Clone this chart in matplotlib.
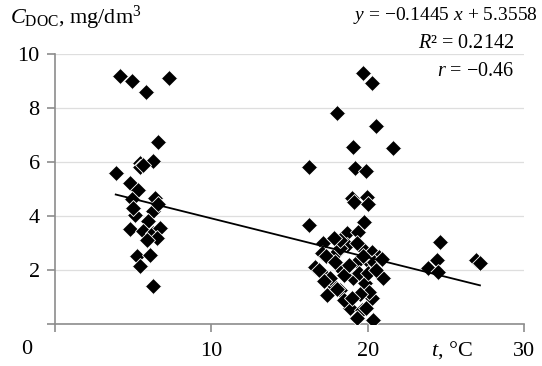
"""
DOC concentration vs water temperature, with linear trend (Excel-style scatter).
"""
import matplotlib
matplotlib.use("Agg")
import matplotlib.pyplot as plt

plt.rcParams["font.family"] = ["Liberation Serif", "DejaVu Serif"]
plt.rcParams["mathtext.fontset"] = "custom"
plt.rcParams["mathtext.rm"] = "Liberation Serif"
plt.rcParams["mathtext.it"] = "Liberation Serif:italic"

# temperature, degC
t_values = [
    4.15, 4.9, 5.81, 7.3, 6.6, 5.43, 5.43, 6.28, 3.88, 4.79, 5.28, 4.9, 6.39,
    6.28, 5.11, 5.96, 4.79, 5.64, 6.28, 5.22, 6.07, 5.43, 6.28, 6.7, 6.5,
    5.9, 5.0, 6.6, 5.6,
    19.7, 20.24, 18.0, 20.51, 19.02, 21.58, 16.23, 19.17, 19.87,
    18.96, 19.92, 19.1, 20.0, 19.74, 16.23, 18.68, 19.38, 17.14, 17.04,
    18.0, 18.64, 19.6, 20.24, 20.72, 16.61, 19.28, 20.13, 17.04, 18.32,
    20.98, 17.78, 19.06, 19.81, 17.36, 18.21, 20.24, 18.85, 19.6, 19.28,
    20.34,
    16.9, 17.3, 17.6, 17.9, 18.2, 18.5, 18.8, 19.4, 19.7, 20.0, 20.4, 20.1,
    19.5, 18.5, 19.3, 18.2, 17.8, 20.5, 20.9, 19.0, 17.2, 18.0, 19.9,
    24.6, 24.39, 23.85, 24.5, 26.9, 27.16,
]
# dissolved organic carbon, mg/dm3
doc_values = [
    9.2, 9.0, 8.6, 9.1, 6.73, 5.98, 5.8, 6.02, 5.6, 5.24, 4.96, 4.62, 4.68,
    4.19, 4.04, 3.82, 3.51, 3.45, 3.38, 2.52, 2.55, 2.15, 1.41, 3.55, 3.2,
    3.1, 4.3, 4.45, 5.9,
    9.31, 8.91, 7.83, 7.33, 6.54, 6.53, 5.8, 5.77, 5.67,
    4.65, 4.72, 4.5, 4.45, 3.79, 3.67, 3.38, 3.42, 2.99, 2.64,
    2.68, 2.93, 2.8, 2.68, 2.47, 2.12, 2.31, 2.25, 1.88, 2.0,
    1.69, 1.44, 1.69, 1.51, 1.07, 1.26, 0.95, 0.58, 0.52, 0.21,
    0.15,
    2.0, 2.5, 1.7, 2.3, 2.8, 1.8, 2.2, 1.9, 2.5, 1.9, 2.3, 1.2,
    1.1, 0.9, 3.0, 3.1, 3.2, 2.0, 2.4, 0.95, 1.6, 1.3, 0.6,
    3.05, 2.37, 2.06, 1.94, 2.37, 2.25,
]

SLOPE, INTERCEPT = -0.1445, 5.3558
GREY = "#8c8c8c"
FS = 16

fig = plt.figure(figsize=(5.42, 3.66), dpi=100)
ax = fig.add_axes([0.1015, 0.1148, 0.866, 0.7377])

ax.plot(t_values, doc_values, "D", ms=7.8, mfc="black", mec="white",
        mew=0.6, zorder=3)
x0, x1 = min(t_values), max(t_values)
ax.plot([x0, x1], [SLOPE * x0 + INTERCEPT, SLOPE * x1 + INTERCEPT],
        color="black", lw=1.3, zorder=4)

ax.set_xlim(0, 30)
ax.set_ylim(0, 10)
ax.set_xticks([0, 10, 20, 30], ["", "10", "20", "30"])
ax.set_yticks([0, 2, 4, 6, 8, 10], ["", "2", "4", "6", "8", "10"])
ax.tick_params(axis="both", direction="out", length=6, width=1.2,
               color=GREY, labelsize=FS)
ax.tick_params(axis="x", pad=7)
ax.tick_params(axis="y", pad=5)
ax.yaxis.grid(True, color="#dedede", lw=0.9)
ax.set_axisbelow(True)
for side in ("top", "right"):
    ax.spines[side].set_visible(False)
for side in ("left", "bottom"):
    ax.spines[side].set_color(GREY)
    ax.spines[side].set_linewidth(1.2)

fig.text(27 / 542, 1 - 350 / 366, "0", fontsize=FS, ha="center", va="center")
fig.text(452 / 542, 1 - 350 / 366, "$t$, °C", fontsize=FS,
         ha="center", va="center")
fig.text(10 / 542, 1 - 18 / 366, r"$C_{\mathrm{DOC}}$, mg/dm$^3$",
         fontsize=FS, ha="left", va="center")
fig.text(538 / 542, 1 - 15 / 366, "$y$ = −0.1445 $x$ + 5.3558",
         fontsize=14, ha="right", va="center")
fig.text(514 / 542, 1 - 44 / 366, "$R$² = 0.2142", fontsize=14.5,
         ha="right", va="center")
fig.text(514 / 542, 1 - 72 / 366, "$r$ = −0.46", fontsize=14.5,
         ha="right", va="center")

fig.savefig("out.png", dpi=100)
